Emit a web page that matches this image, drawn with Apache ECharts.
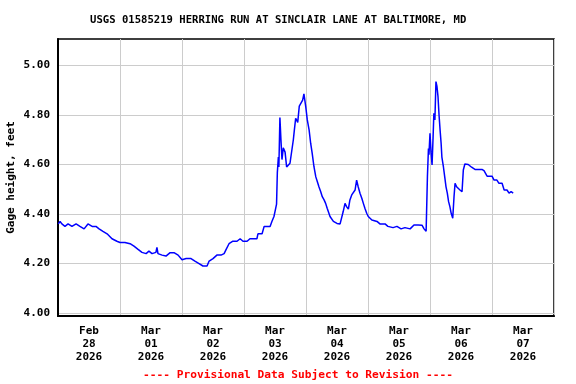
<!DOCTYPE html>
<html>
<head>
<meta charset="utf-8">
<script src="https://cdn.jsdelivr.net/npm/echarts@6/dist/echarts.min.js"></script>
<style>
html,body{margin:0;padding:0;background:#fff;}
#chart{width:576px;height:384px;}
</style>
</head>
<body>
<div id="chart"></div>
<script>
// Hours since 2026-02-28 00:00
const hours = [
0.1,0.8,1.5,2.7,3.9,5.4,7.0,8.5,10.1,11.6,13.2,14.7,15.9,17.4,19.0,20.9,22.8,24.0,25.9,27.9,
29.4,31.0,32.5,34.1,35.2,36.4,37.9,38.3,38.7,40.3,41.8,43.4,44.9,46.5,48.0,49.6,51.5,53.0,54.6,56.1,
57.7,58.5,60.0,61.5,63.1,64.3,65.0,66.2,67.7,69.3,70.5,71.6,73.2,74.3,75.9,77.0,
77.4,79.0,79.8,82.1,82.8,83.6,84.2,84.6,84.9,85.3,85.5,85.9,86.3,86.7,87.2,87.9,88.5,89.1,89.8,90.5,
91.1,91.5,92.0,92.8,93.4,94.1,94.7,95.2,95.9,96.5,97.2,97.8,98.4,99.1,99.8,100.4,101.0,101.7,102.3,103.0,
103.6,104.2,105.3,106.6,108.0,109.2,109.9,110.4,111.1,111.7,112.4,113.0,113.7,114.3,115.0,115.6,116.2,116.9,117.6,118.2,
118.8,119.5,120.1,121.5,123.5,124.6,126.6,127.7,129.7,131.2,132.8,134.3,136.3,137.8,139.4,140.9,141.7,142.5,
143.0,143.4,143.6,144.0,144.4,144.8,145.2,145.5,145.9,146.3,146.7,147.1,147.5,147.9,148.3,148.6,149.2,149.7,150.2,150.7,
151.2,151.7,152.2,152.8,153.3,153.7,154.3,155.0,155.6,156.4,156.9,157.5,158.8,160.1,161.4,163.0,164.1,164.9,166.1,167.2,
168.0,168.8,169.9,170.7,171.9,172.7,173.8,174.6,175.4,176.2
];
const gageHeight = [
4.36,4.37,4.36,4.35,4.36,4.35,4.36,4.35,4.34,4.36,4.35,4.35,4.34,4.33,4.32,4.30,4.29,4.285,4.285,4.28,
4.27,4.257,4.245,4.24,4.25,4.24,4.245,4.265,4.24,4.234,4.23,4.244,4.244,4.234,4.215,4.22,4.22,4.21,4.20,4.19,
4.19,4.21,4.22,4.234,4.234,4.24,4.255,4.28,4.29,4.29,4.30,4.29,4.29,4.30,4.30,4.30,
4.32,4.32,4.35,4.35,4.37,4.39,4.42,4.44,4.566,4.63,4.59,4.79,4.70,4.62,4.667,4.65,4.59,4.585,4.605,4.60,
4.70,4.74,4.787,4.77,4.836,4.83,4.86,4.885,4.834,4.78,4.74,4.686,4.645,4.59,4.55,4.53,4.51,4.49,4.47,4.457,
4.443,4.423,4.39,4.37,4.362,4.36,4.365,4.41,4.443,4.43,4.42,4.457,4.477,4.47,4.497,4.537,4.51,4.484,4.464,4.443,
4.423,4.403,4.39,4.376,4.37,4.36,4.36,4.35,4.345,4.35,4.34,4.345,4.34,4.356,4.356,4.355,4.34,4.33,
4.55,4.665,4.64,4.726,4.65,4.598,4.712,4.807,4.78,4.935,4.915,4.874,4.80,4.74,4.686,4.63,4.59,4.55,4.51,4.484,
4.45,4.43,4.403,4.383,4.47,4.524,4.51,4.504,4.497,4.49,4.578,4.602,4.60,4.589,4.58,4.58,4.58,4.575,4.553,4.553,
4.553,4.537,4.537,4.524,4.524,4.497,4.497,4.484,4.49,4.484
];
const yTicks = [4.0, 4.2, 4.4, 4.6, 4.8, 5.0];
const xLabelHours = [12, 36, 60, 84, 108, 132, 156, 180];
const xLabelMonths = ['Feb','Mar','Mar','Mar','Mar','Mar','Mar','Mar'];
const xLabelDays = ['28','01','02','03','04','05','06','07'];
const xLabelYears = ['2026','2026','2026','2026','2026','2026','2026','2026'];
const titleText = 'USGS 01585219 HERRING RUN AT SINCLAIR LANE AT BALTIMORE, MD';
const yAxisName = 'Gage height, feet';
const footerText = '---- Provisional Data Subject to Revision ----';

const FONT = '"DejaVu Sans Mono", "Liberation Mono", monospace';
const chart = echarts.init(document.getElementById('chart'), null, {renderer: 'canvas'});
const data = hours.map((h, i) => [h, gageHeight[i]]);

chart.setOption({
  animation: false,
  backgroundColor: '#fff',
  grid: {left: 58, top: 39, right: 22, bottom: 68, outerBoundsMode: 'none', containLabel: false,
         show: true, borderColor: '#000', borderWidth: 1.5, backgroundColor: 'transparent'},
  graphic: [
    {type: 'text', left: 90, top: 15, style: {text: titleText, font: 'bold 10.6px ' + FONT, fill: '#000'}},
    {type: 'text', x: 298, y: 375, style: {text: footerText, font: 'bold 11.2px ' + FONT, fill: '#ff0000', textAlign: 'center', textVerticalAlign: 'middle'}}
  ],
  xAxis: {
    type: 'value', min: 0, max: 192, interval: 24,
    axisLine: {show: true, lineStyle: {color: '#000', width: 2}},
    axisTick: {show: false},
    splitLine: {show: true, lineStyle: {color: '#cccccc', width: 1}},
    axisLabel: {
      customValues: xLabelHours,
      margin: 9,
      lineHeight: 13,
      color: '#000',
      fontFamily: FONT, fontWeight: 'bold', fontSize: 11,
      formatter: function (v) {
        const i = xLabelHours.indexOf(v);
        if (i < 0) return '';
        return xLabelMonths[i] + '\n' + xLabelDays[i] + '\n' + xLabelYears[i];
      }
    }
  },
  yAxis: {
    type: 'value', min: 3.988, max: 5.107,
    name: yAxisName, nameLocation: 'middle', nameGap: 41, nameRotate: 90, nameMoveOverlap: false,
    nameTextStyle: {fontFamily: FONT, fontWeight: 'bold', fontSize: 11, color: '#000'},
    axisLine: {show: true, lineStyle: {color: '#000', width: 2}},
    axisTick: {show: false, customValues: yTicks},
    splitLine: {show: true, lineStyle: {color: '#cccccc', width: 1}},
    axisLabel: {
      customValues: yTicks,
      margin: 8,
      color: '#000',
      fontFamily: FONT, fontWeight: 'bold', fontSize: 11,
      formatter: v => v.toFixed(2)
    }
  },
  series: [{
    type: 'line',
    data: data,
    showSymbol: false,
    lineStyle: {color: '#0000ff', width: 1.5},
    itemStyle: {color: '#0000ff'}
  }]
});
</script>
</body>
</html>
